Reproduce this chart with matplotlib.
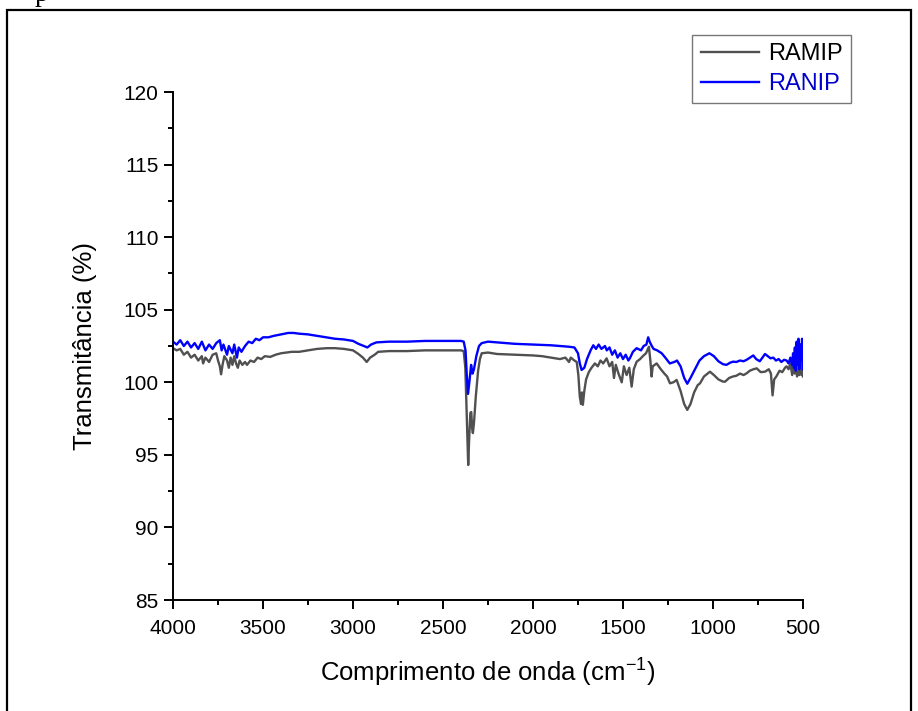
import numpy as np
import matplotlib
matplotlib.use("Agg")
import matplotlib.pyplot as plt
from matplotlib.patches import Rectangle
from matplotlib.ticker import MultipleLocator, AutoMinorLocator

plt.rcParams['font.family'] = ['Liberation Sans', 'DejaVu Sans']
plt.rcParams['mathtext.fontset'] = 'custom'
plt.rcParams['mathtext.rm'] = 'Liberation Sans'

#%% data (wavenumber in cm-1, transmittance in %)
ramip_wn = [4000, 3980, 3960, 3940, 3920, 3900, 3880, 3860, 3840, 3833, 3820, 3800,
            3780, 3760, 3750, 3740, 3733, 3725, 3715, 3700, 3690, 3680, 3670, 3660,
            3650, 3640, 3630, 3615, 3600, 3589, 3570, 3550, 3530, 3510, 3490, 3460,
            3430, 3400, 3370, 3340, 3300, 3250, 3200, 3145, 3100, 3050, 3000, 2970,
            2945, 2924, 2905, 2880, 2860, 2800, 2700, 2600, 2500, 2400, 2385, 2376,
            2370, 2364, 2360, 2355, 2348, 2343, 2338, 2334, 2328, 2318, 2305, 2295,
            2285, 2250, 2200, 2100, 2000, 1950, 1900, 1850, 1820, 1800, 1790, 1770,
            1757, 1748, 1740, 1733, 1728, 1723, 1715, 1705, 1690, 1675, 1656, 1640,
            1625, 1610, 1591, 1575, 1560, 1550, 1540, 1525, 1507, 1495, 1480, 1465,
            1452, 1440, 1424, 1405, 1390, 1372, 1356, 1348, 1341, 1335, 1313, 1290,
            1270, 1255, 1239, 1220, 1202, 1180, 1160, 1143, 1125, 1105, 1085, 1072,
            1050, 1017, 995, 970, 945, 933, 910, 889, 870, 850, 830, 813,
            795, 775, 757, 735, 711, 690, 678, 669, 660, 648, 630, 615,
            600, 591, 580, 570, 560, 553, 546, 540, 533, 527, 520, 513,
            507, 502, 500]
ramip_t = [102.35, 102.2, 102.3, 101.9, 102.1, 101.7, 101.9, 101.5, 101.8, 101.3, 101.7, 101.4,
           101.9, 102.0, 101.5, 101.1, 100.55, 101.2, 101.8, 101.5, 101.0, 101.7, 101.2, 101.8,
           101.3, 101.0, 101.5, 101.2, 101.4, 101.2, 101.5, 101.4, 101.7, 101.6, 101.8, 101.75,
           101.9, 102.0, 102.05, 102.1, 102.1, 102.2, 102.3, 102.35, 102.35, 102.3, 102.2, 101.95,
           101.7, 101.4, 101.7, 101.9, 102.1, 102.15, 102.15, 102.2, 102.2, 102.2, 102.15, 101.0,
           98.5, 96.0, 94.3, 96.0, 97.9, 97.95, 96.8, 96.5, 97.2, 99.0, 100.8, 101.6,
           102.0, 102.05, 101.95, 101.9, 101.85, 101.8, 101.7, 101.6, 101.7, 101.4, 101.7, 101.5,
           101.4, 100.5, 99.0, 98.5, 99.3, 98.45, 99.4, 100.2, 100.7, 101.0, 101.3, 101.1,
           101.5, 101.3, 101.65, 101.1, 101.4, 100.3, 101.2, 100.6, 100.0, 101.1, 100.5, 101.0,
           99.7, 100.9, 101.42, 101.6, 101.8, 102.0, 102.45, 101.5, 100.4, 101.1, 101.3, 100.9,
           100.6, 100.4, 99.93, 100.0, 100.16, 99.4, 98.5, 98.1, 98.5, 99.3, 99.8, 99.93,
           100.4, 100.73, 100.5, 100.2, 100.05, 100.04, 100.3, 100.4, 100.45, 100.6, 100.5, 100.62,
           100.8, 100.9, 100.96, 100.7, 100.73, 100.9, 100.6, 99.1, 100.2, 100.4, 100.8, 100.7,
           101.0, 101.1, 100.9, 101.3, 100.5, 101.6, 100.6, 102.2, 100.4, 101.7, 100.5, 102.6,
           100.5, 101.8, 100.4]

ranip_wn = [4000, 3980, 3960, 3940, 3920, 3900, 3880, 3860, 3840, 3820, 3800, 3780,
            3760, 3740, 3730, 3720, 3700, 3690, 3670, 3660, 3645, 3635, 3620, 3600,
            3580, 3560, 3540, 3520, 3500, 3470, 3440, 3400, 3360, 3330, 3300, 3250,
            3200, 3150, 3100, 3050, 3000, 2970, 2940, 2920, 2900, 2870, 2800, 2700,
            2600, 2500, 2400, 2385, 2375, 2368, 2361, 2352, 2344, 2336, 2328, 2315,
            2300, 2285, 2250, 2200, 2100, 2000, 1900, 1850, 1800, 1770, 1750, 1740,
            1730, 1715, 1700, 1680, 1665, 1650, 1635, 1620, 1600, 1590, 1575, 1560,
            1545, 1530, 1515, 1500, 1485, 1470, 1460, 1445, 1424, 1400, 1385, 1370,
            1360, 1352, 1340, 1330, 1310, 1285, 1265, 1240, 1215, 1200, 1180, 1160,
            1143, 1125, 1100, 1075, 1050, 1020, 995, 970, 945, 925, 905, 889,
            870, 850, 830, 813, 795, 776, 760, 740, 725, 711, 695, 680,
            665, 650, 635, 620, 605, 591, 580, 570, 560, 555, 550, 545,
            540, 535, 530, 525, 520, 515, 510, 505, 500]
ranip_t = [102.8, 102.6, 102.9, 102.5, 102.8, 102.4, 102.7, 102.3, 102.8, 102.2, 102.6, 102.3,
           102.7, 102.9, 102.2, 102.6, 101.9, 102.5, 102.0, 102.6, 101.7, 102.4, 102.1, 102.5,
           102.8, 102.7, 103.0, 102.9, 103.1, 103.1, 103.2, 103.3, 103.4, 103.4, 103.35, 103.3,
           103.2, 103.1, 103.0, 102.95, 102.85, 102.65, 102.5, 102.4, 102.6, 102.75, 102.8, 102.8,
           102.85, 102.85, 102.85, 102.8, 102.2, 100.5, 99.2, 100.2, 101.2, 100.6, 100.9, 101.8,
           102.5, 102.7, 102.8, 102.75, 102.65, 102.6, 102.55, 102.5, 102.45, 102.4, 102.0, 101.3,
           100.85, 101.0, 101.6, 102.2, 102.55, 102.3, 102.6, 102.3, 102.5, 102.2, 102.4, 101.9,
           102.2, 101.7, 102.0, 101.6, 101.9, 101.5, 101.7, 102.1, 102.35, 102.2, 102.5, 102.6,
           103.1, 102.8, 102.5, 102.3, 102.2, 102.0, 101.7, 101.3, 101.4, 101.5, 101.1, 100.3,
           99.9, 100.3, 100.9, 101.5, 101.8, 102.0, 101.8, 101.45, 101.25, 101.2, 101.35, 101.42,
           101.4, 101.5, 101.45, 101.55, 101.7, 101.85, 101.6, 101.45, 101.7, 101.95, 101.8, 101.65,
           101.7, 101.5, 101.6, 101.4, 101.55, 101.5, 101.3, 101.7, 101.2, 102.0, 101.0, 102.4,
           100.8, 102.8, 101.2, 103.0, 100.9, 102.6, 101.5, 103.0, 100.9]

#%% plot
fig = plt.figure(figsize=(9.18, 7.11), dpi=100)
ax = fig.add_axes([0.1885, 0.1561, 0.6862, 0.7145])

ax.plot(ramip_wn, ramip_t, color='#505050', lw=1.7, label='RAMIP')
ax.plot(ranip_wn, ranip_t, color='#0000ff', lw=1.7, label='RANIP')

ax.set_xlim(4000, 500)
ax.set_ylim(85, 120)
ax.xaxis.set_major_locator(MultipleLocator(500))
ax.xaxis.set_minor_locator(AutoMinorLocator(2))
ax.yaxis.set_major_locator(MultipleLocator(5))
ax.yaxis.set_minor_locator(AutoMinorLocator(2))

for s in ['top', 'right']:
    ax.spines[s].set_visible(False)
for s in ['left', 'bottom']:
    ax.spines[s].set_linewidth(1.4)

ax.tick_params(which='major', direction='out', length=6.5, width=1.4,
               labelsize=15)
ax.tick_params(which='minor', direction='out', length=3.5, width=1.4)
ax.tick_params(axis='x', which='major', pad=7.5)
ax.tick_params(axis='y', which='major', pad=4)

ax.set_xlabel('Comprimento de onda (cm$^{\\mathregular{-1}}$)', fontsize=18.5, labelpad=12)
ax.set_ylabel('Transmitância (%)', fontsize=18.5, labelpad=19)

leg = ax.legend(loc='upper right', bbox_to_anchor=(1.076, 1.112), fontsize=17,
                frameon=True, fancybox=False, handlelength=2.45,
                handletextpad=0.4, borderpad=0.35, labelspacing=0.32,
                borderaxespad=0)
leg.get_frame().set_edgecolor('#555555')
leg.get_frame().set_linewidth(1.0)
leg.get_texts()[0].set_color('black')
leg.get_texts()[1].set_color('#0000cc')

# page frame and cut-off letter from the source document
fig.patches.append(Rectangle((7 / 918, -0.05), 904 / 918, 1.05 - 10 / 711,
                             transform=fig.transFigure, fill=False,
                             edgecolor='black', lw=1.6))
fig.text(42 / 918, 1 - 1 / 711, 'p', family='Liberation Serif', fontsize=20,
         va='baseline', ha='center')

fig.savefig('out.png', dpi=100)
